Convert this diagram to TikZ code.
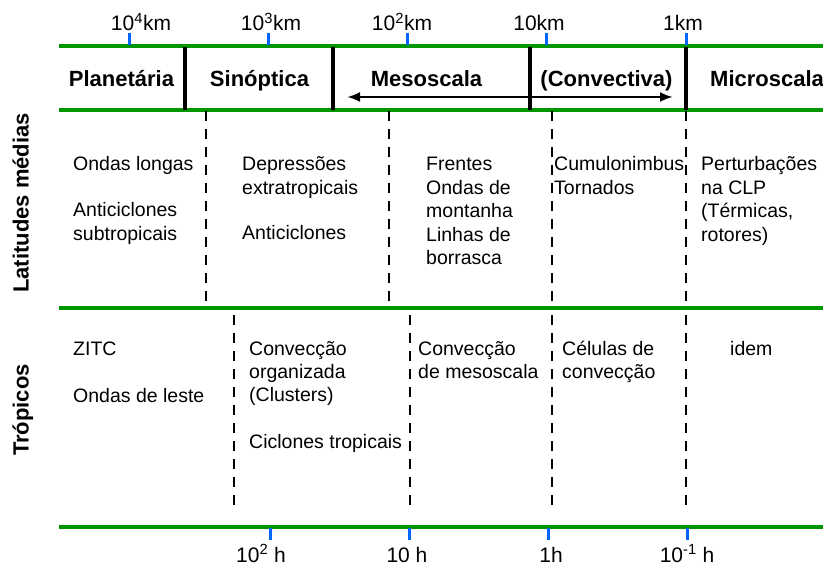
\documentclass[tikz,border=0pt]{standalone}
\usepackage{fontspec}
\setmainfont{Liberation Sans}
\usetikzlibrary{arrows.meta}
\definecolor{gline}{RGB}{0,150,0}
\definecolor{btick}{RGB}{0,102,255}
\tikzset{
  greenline/.style={draw=gline, line width=3.5pt},
  bluetick/.style={draw=btick, line width=3pt},
  solidsep/.style={draw=black, line width=3.2pt},
  dashsep/.style={draw=black, line width=2.8pt, dash pattern=on 10pt off 8pt},
  headlbl/.style={inner sep=0pt, anchor=base, font=\fontsize{22}{26}\selectfont\bfseries},
  axislbl/.style={inner sep=0pt, anchor=base, font=\fontsize{21}{25}\selectfont},
  sidelbl/.style={inner sep=0pt, anchor=base, rotate=90, font=\fontsize{22}{26}\selectfont\bfseries},
  cell/.style={inner sep=0pt, anchor=base west, font=\fontsize{19.5}{23.4}\selectfont}
}
\newcommand{\cl}[1]{\parbox[t]{160pt}{\raggedright #1}}
\begin{document}
\begin{tikzpicture}[x=1pt,y=-1pt]
\useasboundingbox (0,0) rectangle (823,567);
\clip (0,0) rectangle (823,567);
% green rules
\draw[greenline] (59,46) -- (823,46);
\draw[greenline] (59,110) -- (823,110);
\draw[greenline] (59,308) -- (823,308);
\draw[greenline] (59,527) -- (823,527);
% blue ticks top
\foreach \x in {129,268,407,546,686} \draw[bluetick] (\x,33) -- (\x,45);
% blue ticks bottom
\foreach \x in {270,409,548,687} \draw[bluetick] (\x,528) -- (\x,540);
% header separators
\foreach \x in {185,333,530,686} \draw[solidsep] (\x,47) -- (\x,110);
% dashed separators
\foreach \x in {206,389,552,686} \draw[dashsep] (\x,111) -- (\x,308);
\foreach \x in {234,410,552,686} \draw[dashsep] (\x,315) -- (\x,512);
% arrow
\coordinate (al) at (347,97);
\coordinate (ar) at (673,97);
\draw[line width=2.6pt, {Latex[length=13pt,width=10pt]}-{Latex[length=13pt,width=10pt]}] (al) -- (ar);
% top scale labels
\node[axislbl] (t1) at (141,31) {10\textsuperscript{4}km};
\node[axislbl] (t2) at (271,31) {10\textsuperscript{3}km};
\node[axislbl] (t3) at (402,31) {10\textsuperscript{2}km};
\node[axislbl] (t4) at (539,31) {10km};
\node[axislbl] (t5) at (683,31) {1km};
% bottom scale labels
\node[axislbl] (b1) at (261,562) {10\textsuperscript{2} h};
\node[axislbl] (b2) at (407,562) {10 h};
\node[axislbl] (b3) at (551,562) {1h};
\node[axislbl] (b4) at (687,562) {10\textsuperscript{-1} h};
% header labels
\node[headlbl] (h1) at (121.5,87) {Planetária};
\node[headlbl] (h2) at (259.5,87) {Sinóptica};
\node[headlbl] (h3) at (426.5,87) {Mesoscala};
\node[headlbl] (h4) at (606.5,87) {(Convectiva)};
\node[headlbl, anchor=base west] (h5) at (710,87) {Microscala};
% side labels
\node[sidelbl] (s1) at (28.5,203) {Latitudes médias};
\node[sidelbl] (s2) at (28.5,410) {Trópicos};
% latitudes medias
\node[cell] (l1) at (73,171) {\cl{Ondas longas}};
\node[cell] (l2) at (73,217) {\cl{Anticiclones\\subtropicais}};
\node[cell] (l3) at (242,171) {\cl{Depressões\\extratropicais}};
\node[cell] (l4) at (242,240) {\cl{Anticiclones}};
\node[cell] (l5) at (426,171) {\cl{Frentes\\Ondas de\\montanha\\Linhas de\\borrasca}};
\node[cell] (l6) at (554,171) {\cl{Cumulonimbus\\Tornados}};
\node[cell] (l7) at (701,171) {\cl{Perturbações\\na CLP\\(Térmicas,\\rotores)}};
% tropicos
\node[cell] (r1) at (73,355) {\cl{ZITC}};
\node[cell] (r2) at (73,402) {\cl{Ondas de leste}};
\node[cell] (r3) at (249,355) {\cl{Convecção\\organizada\\(Clusters)}};
\node[cell] (r4) at (249,448) {\cl{Ciclones tropicais}};
\node[cell] (r5) at (418,355) {\cl{Convecção\\de mesoscala}};
\node[cell] (r6) at (562,355) {\cl{Células de\\convecção}};
\node[cell] (r7) at (730,355) {\cl{idem}};
\end{tikzpicture}
\end{document}
